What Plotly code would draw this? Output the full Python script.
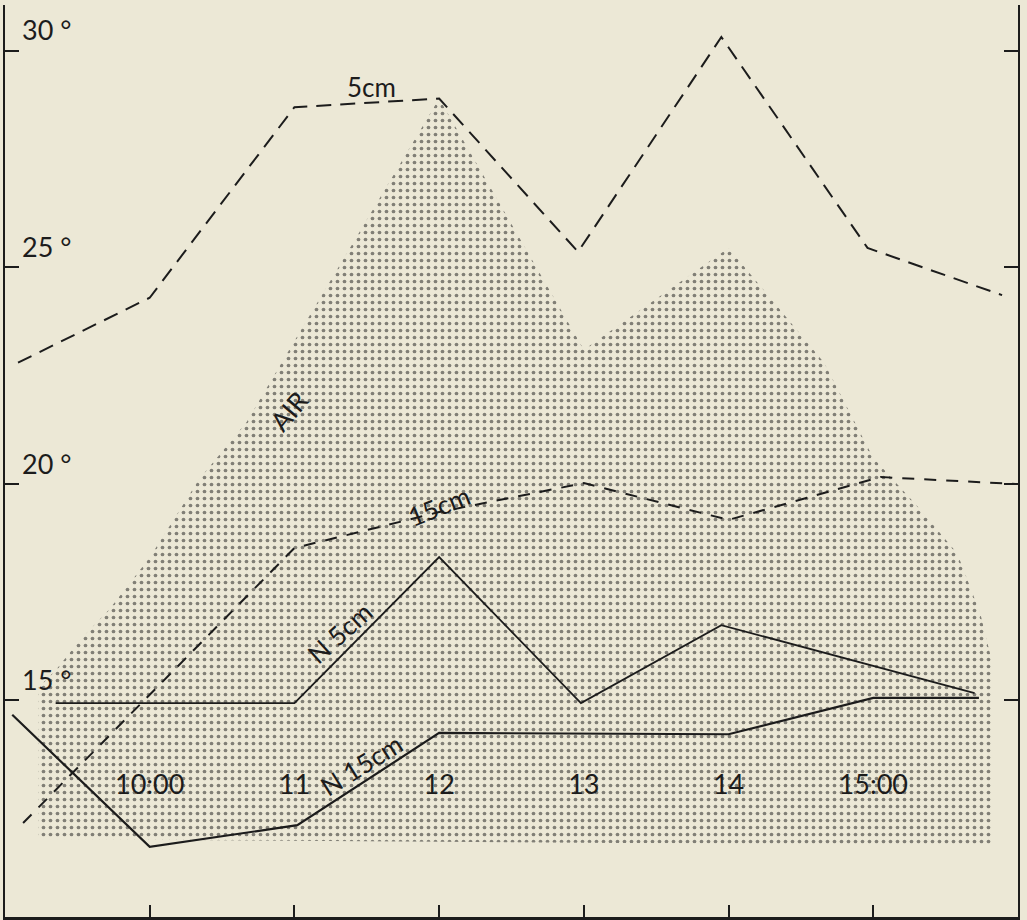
import plotly.graph_objects as go

# Time of day (hours) and temperatures (°C)
soil5_x = [9.09, 10.0, 11.0, 12.0, 12.96, 13.95, 14.96, 15.89]
soil5_y = [22.8, 24.3, 28.7, 28.9, 25.36, 30.32, 25.45, 24.36]

soil15_x = [9.125, 11.0, 12.0, 13.0, 14.0, 15.05, 15.98]
soil15_y = [12.17, 18.52, 19.35, 20.02, 19.17, 20.16, 20.0]

n5_x = [9.35, 11.0, 12.0, 12.98, 13.95, 15.70]
n5_y = [14.94, 14.94, 18.31, 14.94, 16.74, 15.17]

n15_x = [9.05, 10.0, 11.02, 12.0, 14.0, 15.0, 15.73]
n15_y = [14.67, 11.62, 12.12, 14.25, 14.22, 15.06, 15.06]

air_x = [9.23, 9.23, 9.35, 9.52, 9.72, 10.0, 10.34, 10.67, 11.0, 12.0, 13.0, 14.0,
         14.66, 15.0, 15.3, 15.58, 15.74, 15.82, 15.82, 9.23]
air_y = [11.8, 15.3, 15.7, 16.4, 17.1, 18.3, 20.1, 21.43, 23.3, 28.9, 23.1, 25.45,
         22.8, 20.6, 19.5, 18.4, 17.0, 15.9, 11.65, 11.8]

x_ticks = [10, 11, 12, 13, 14, 15]
x_labels = ["10:00", "11", "12", "13", "14", "15:00"]
y_ticks = [15, 20, 25, 30]
y_labels = ["15 °", "20 °", "25 °", "30 °"]

labels = [
    ("5cm", 11.53, 29.17, 0),
    ("AIR", 10.96, 21.69, -50),
    ("15cm", 12.0, 19.49, -22),
    ("N 5cm", 11.31, 16.56, -42),
    ("N 15cm", 11.46, 13.51, -32),
]

BG = "#ECE8D6"
INK = "#1c1c1c"
FONT = "Lato"

fig = go.Figure()

fig.add_trace(go.Scatter(
    x=air_x, y=air_y, mode="lines", fill="toself",
    line=dict(width=0, color=BG),
    fillcolor=BG,
    fillpattern=dict(shape=".", size=7, solidity=0.22, fgcolor="#151515", bgcolor=BG),
    hoverinfo="skip", showlegend=False,
))

fig.add_trace(go.Scatter(x=soil5_x, y=soil5_y, mode="lines",
                         line=dict(color=INK, width=2, dash="15px,9px"), showlegend=False))
fig.add_trace(go.Scatter(x=soil15_x, y=soil15_y, mode="lines",
                         line=dict(color=INK, width=2, dash="12px,10px"), showlegend=False))
fig.add_trace(go.Scatter(x=n5_x, y=n5_y, mode="lines",
                         line=dict(color=INK, width=1.8), showlegend=False))
fig.add_trace(go.Scatter(x=n15_x, y=n15_y, mode="lines",
                         line=dict(color=INK, width=2.2), showlegend=False))

for text, lx, ly, ang in labels:
    fig.add_annotation(x=lx, y=ly, text=text, showarrow=False, textangle=ang,
                       font=dict(family=FONT, size=26, color=INK))

fig.update_layout(
    width=1027, height=920,
    margin=dict(l=5, r=9, t=5, b=3),
    paper_bgcolor=BG, plot_bgcolor=BG,
    font=dict(family=FONT, color=INK),
)

fig.update_xaxes(
    range=[9, 16], showgrid=False, zeroline=False, automargin=False,
    showline=True, linecolor=INK, linewidth=2.5,
    tickvals=x_ticks, ticktext=x_labels,
    ticks="inside", ticklen=12, tickwidth=1.5, tickcolor=INK,
    ticklabelposition="inside", ticklabelstandoff=108,
    tickfont=dict(family=FONT, size=27, color=INK),
)
fig.update_yaxes(
    range=[10, 31.06], showgrid=False, zeroline=False, automargin=False,
    showline=True, linecolor=INK, linewidth=1.5, mirror="ticks",
    tickvals=y_ticks, ticktext=y_labels,
    ticks="inside", ticklen=14, tickwidth=2, tickcolor=INK,
    ticklabelposition="inside top", ticklabelstandoff=19,
    tickfont=dict(family=FONT, size=27, color=INK),
)

fig.write_html(
    "out.html",
    config={"displayModeBar": False},
    post_script="document.body.style.margin='0';document.body.style.background='%s';" % BG,
)
